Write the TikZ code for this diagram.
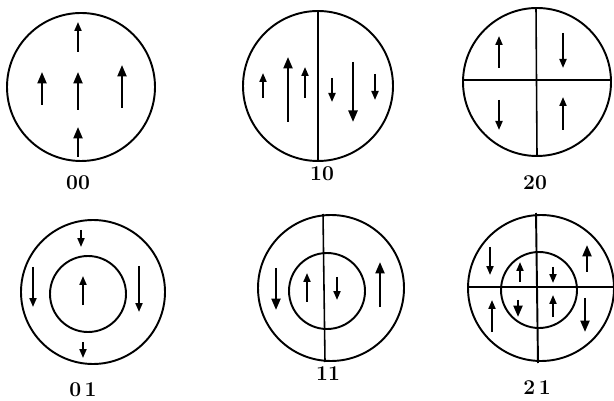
\documentclass[tikz,border=0pt]{standalone}
\usetikzlibrary{arrows.meta}

\begin{document}
\begin{tikzpicture}[
  x=0.02cm,y=-0.02cm,
  ring/.style={line width=1.1pt},
  wall/.style={line width=0.9pt},
  thickwall/.style={line width=1.5pt},
  arr/.style={-{Triangle[length=1.8mm,width=1.4mm]},line width=1.1pt},
  barr/.style={-{Triangle[length=2.3mm,width=1.8mm]},line width=1.3pt},
  lbl/.style={font=\large\bfseries,inner sep=0pt}
]
\useasboundingbox (0,0) rectangle (614,401);
% ---------------- mode 00 ----------------
\draw[ring] (81,87) circle (74);
\draw[arr]  (78,52) -- (78,22);
\draw[barr] (42,105) -- (42,72);
\draw[barr] (78,110) -- (78,72);
\draw[barr] (122,108) -- (122,65);
\draw[barr] (78,157) -- (78,127);
\node[lbl] (n00) at (78,183) {00};
% ---------------- mode 10 ----------------
\draw[ring] (318,86) circle (75);
\draw[wall] (318,11) -- (318,161);
\draw[arr]  (263,98) -- (263,73);
\draw[barr] (288,122) -- (288,57);
\draw[arr]  (305,98) -- (305,67);
\draw[arr]  (332,78) -- (332,102);
\draw[barr] (353,62) -- (353,122);
\draw[arr]  (375,74) -- (375,100);
\node[lbl] (n10) at (322,174) {10};
% ---------------- mode 20 ----------------
\draw[ring] (537,82) circle (74);
\draw[thickwall] (463,80) -- (611,80);
\draw[wall] (536,8) -- (537,156);
\draw[arr] (499,68) -- (499,36);
\draw[arr] (563,33) -- (563,68);
\draw[arr] (499,100) -- (499,130);
\draw[arr] (563,130) -- (563,97);
\node[lbl] (n20) at (535,183) {20};
% ---------------- mode 01 ----------------
\draw[ring] (93,292) circle (72);
\draw[ring] (88,294) circle (38);
\draw[arr] (81,230) -- (81,247);
\draw[arr] (33,267) -- (33,307);
\draw[arr] (83,305) -- (83,276);
\draw[arr] (139,266) -- (139,312);
\draw[arr] (83,342) -- (83,358);
\node[lbl] (n01) at (83,390) {0\,1};
% ---------------- mode 11 ----------------
\draw[ring] (331,288) circle (73);
\draw[ring] (327,291) circle (38);
\draw[wall] (323,214) -- (325,362);
\draw[barr] (276,268) -- (276,310);
\draw[arr]  (307,302) -- (307,273);
\draw[arr]  (337,277) -- (337,300);
\draw[barr] (380,307) -- (380,262);
\node[lbl] (n11) at (328,374) {11};
% ---------------- mode 21 ----------------
\draw[ring] (541,288) circle (73);
\draw[ring] (539,290) circle (38);
\draw[thickwall] (469,287) -- (614,287);
\draw[ring] (536,213) -- (538,363);
\draw[arr]  (490,247) -- (490,275);
\draw[arr]  (520,282) -- (520,262);
\draw[arr]  (553,267) -- (553,283);
\draw[barr] (587,272) -- (587,245);
\draw[arr]  (492,332) -- (492,300);
\draw[barr] (518,300) -- (518,317);
\draw[arr]  (553,317) -- (553,295);
\draw[barr] (585,298) -- (585,332);
\node[lbl] (n21) at (537,388) {2\,1};
\end{tikzpicture}
\end{document}
